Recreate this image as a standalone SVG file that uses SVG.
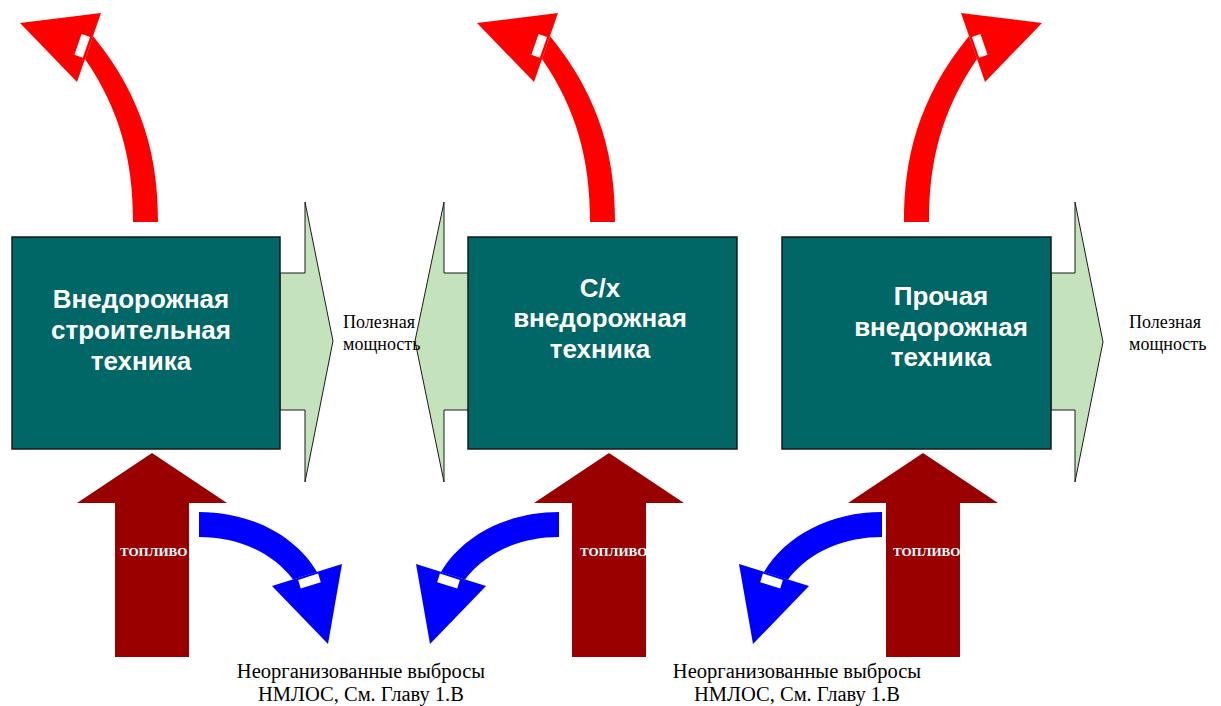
<svg xmlns="http://www.w3.org/2000/svg" width="1221" height="706" viewBox="0 0 1221 706">
<style>
.box{fill:#006666;stroke:#1a1a1a;stroke-width:1.5}
.bt{font-family:"Liberation Sans",Arial,sans-serif;font-weight:bold;font-size:26px;fill:#ffffff;text-anchor:middle}
.green{fill:#c4e3bc;stroke:#1a1a1a;stroke-width:1}
.red{fill:#ff0000}
.blue{fill:#0000ff}
.fuel{fill:#990000}
.ft{font-family:"Liberation Serif","Times New Roman",serif;font-weight:bold;font-size:13px;fill:#ffffff}
.lbl{font-family:"Liberation Serif","Times New Roman",serif;font-size:18px;fill:#000000}
.bot{font-family:"Liberation Serif","Times New Roman",serif;font-size:20.5px;fill:#000000;text-anchor:middle}
.gap{fill:#ffffff}
</style>
<defs>
<g id="redArrow">
<path class="red" d="M133,222 L158,222 C158,160 145,100 93,36 L85,59 C120,110 133,160 133,222 Z"/>
<polygon class="red" points="20,23 101,13 77,82"/>
<polygon class="gap" points="81.6,33.9 90.1,36.9 82.8,57.7 74.4,54.7"/>
</g>
<g id="blueArrow">
<path class="blue" d="M199,512 C250,512 295,535 317,572 L293,579.4 C270,550 235,537 199,537 Z"/>
<polygon class="blue" points="272,586 342,564 328,644"/>
<polygon class="gap" points="298.1,579.9 318.1,573.6 320.8,582.2 300.8,588.5"/>
</g>
</defs>
<g id="connectors">
<g id="emissions-top">
<use href="#redArrow"/>
<use href="#redArrow" transform="translate(457,0)"/>
<use href="#redArrow" transform="translate(1062,0) scale(-1,1)"/>
</g>
<g id="power-out">
<polygon class="green" points="280,273 305,273 305,202 333,341 305,482 305,410 280,410"/>
<polygon class="green" points="469,273 444,273 444,202 415,341 444,482 444,410 469,410"/>
<polygon class="green" points="1051,273 1075,273 1075,202 1103,342 1075,482 1075,410 1051,410"/>
</g>
<g id="fuel-in">
<polygon class="fuel" points="152,453 227,503 189,503 189,657 115,657 115,503 77,503"/>
<polygon class="fuel" points="609,453 684,503 646,503 646,657 572,657 572,503 534,503"/>
<polygon class="fuel" points="923,453 998,503 960,503 960,657 886,657 886,503 848,503"/>
<text class="ft" x="120" y="556">ТОПЛИВО</text>
<text class="ft" x="580" y="556">ТОПЛИВО</text>
<text class="ft" x="893" y="556">ТОПЛИВО</text>
</g>
<g id="emissions-bottom">
<use href="#blueArrow"/>
<use href="#blueArrow" transform="translate(758,0) scale(-1,1)"/>
<use href="#blueArrow" transform="translate(1081,0) scale(-1,1)"/>
</g>
</g>
<g id="node-construction">
<rect class="box" x="12" y="237" width="268" height="212"/>
<text class="bt" x="141" y="308">Внедорожная</text>
<text class="bt" x="141" y="339">строительная</text>
<text class="bt" x="141" y="370">техника</text>
</g>
<g id="node-agri">
<rect class="box" x="468" y="237" width="269" height="212"/>
<text class="bt" x="600" y="297">С/х</text>
<text class="bt" x="600" y="327">внедорожная</text>
<text class="bt" x="600" y="358">техника</text>
</g>
<g id="node-other">
<rect class="box" x="782" y="237" width="269" height="212"/>
<text class="bt" x="941" y="305">Прочая</text>
<text class="bt" x="941" y="336">внедорожная</text>
<text class="bt" x="941" y="366">техника</text>
</g>
<g id="labels">
<text class="lbl" x="343" y="328">Полезная</text>
<text class="lbl" x="343" y="350">мощность</text>
<text class="lbl" x="1129" y="328">Полезная</text>
<text class="lbl" x="1129" y="350">мощность</text>
<text class="bot" x="361" y="678">Неорганизованные выбросы</text>
<text class="bot" x="361" y="701">НМЛОС, См. Главу 1.В</text>
<text class="bot" x="797" y="678">Неорганизованные выбросы</text>
<text class="bot" x="797" y="701">НМЛОС, См. Главу 1.В</text>
</g>
</svg>
